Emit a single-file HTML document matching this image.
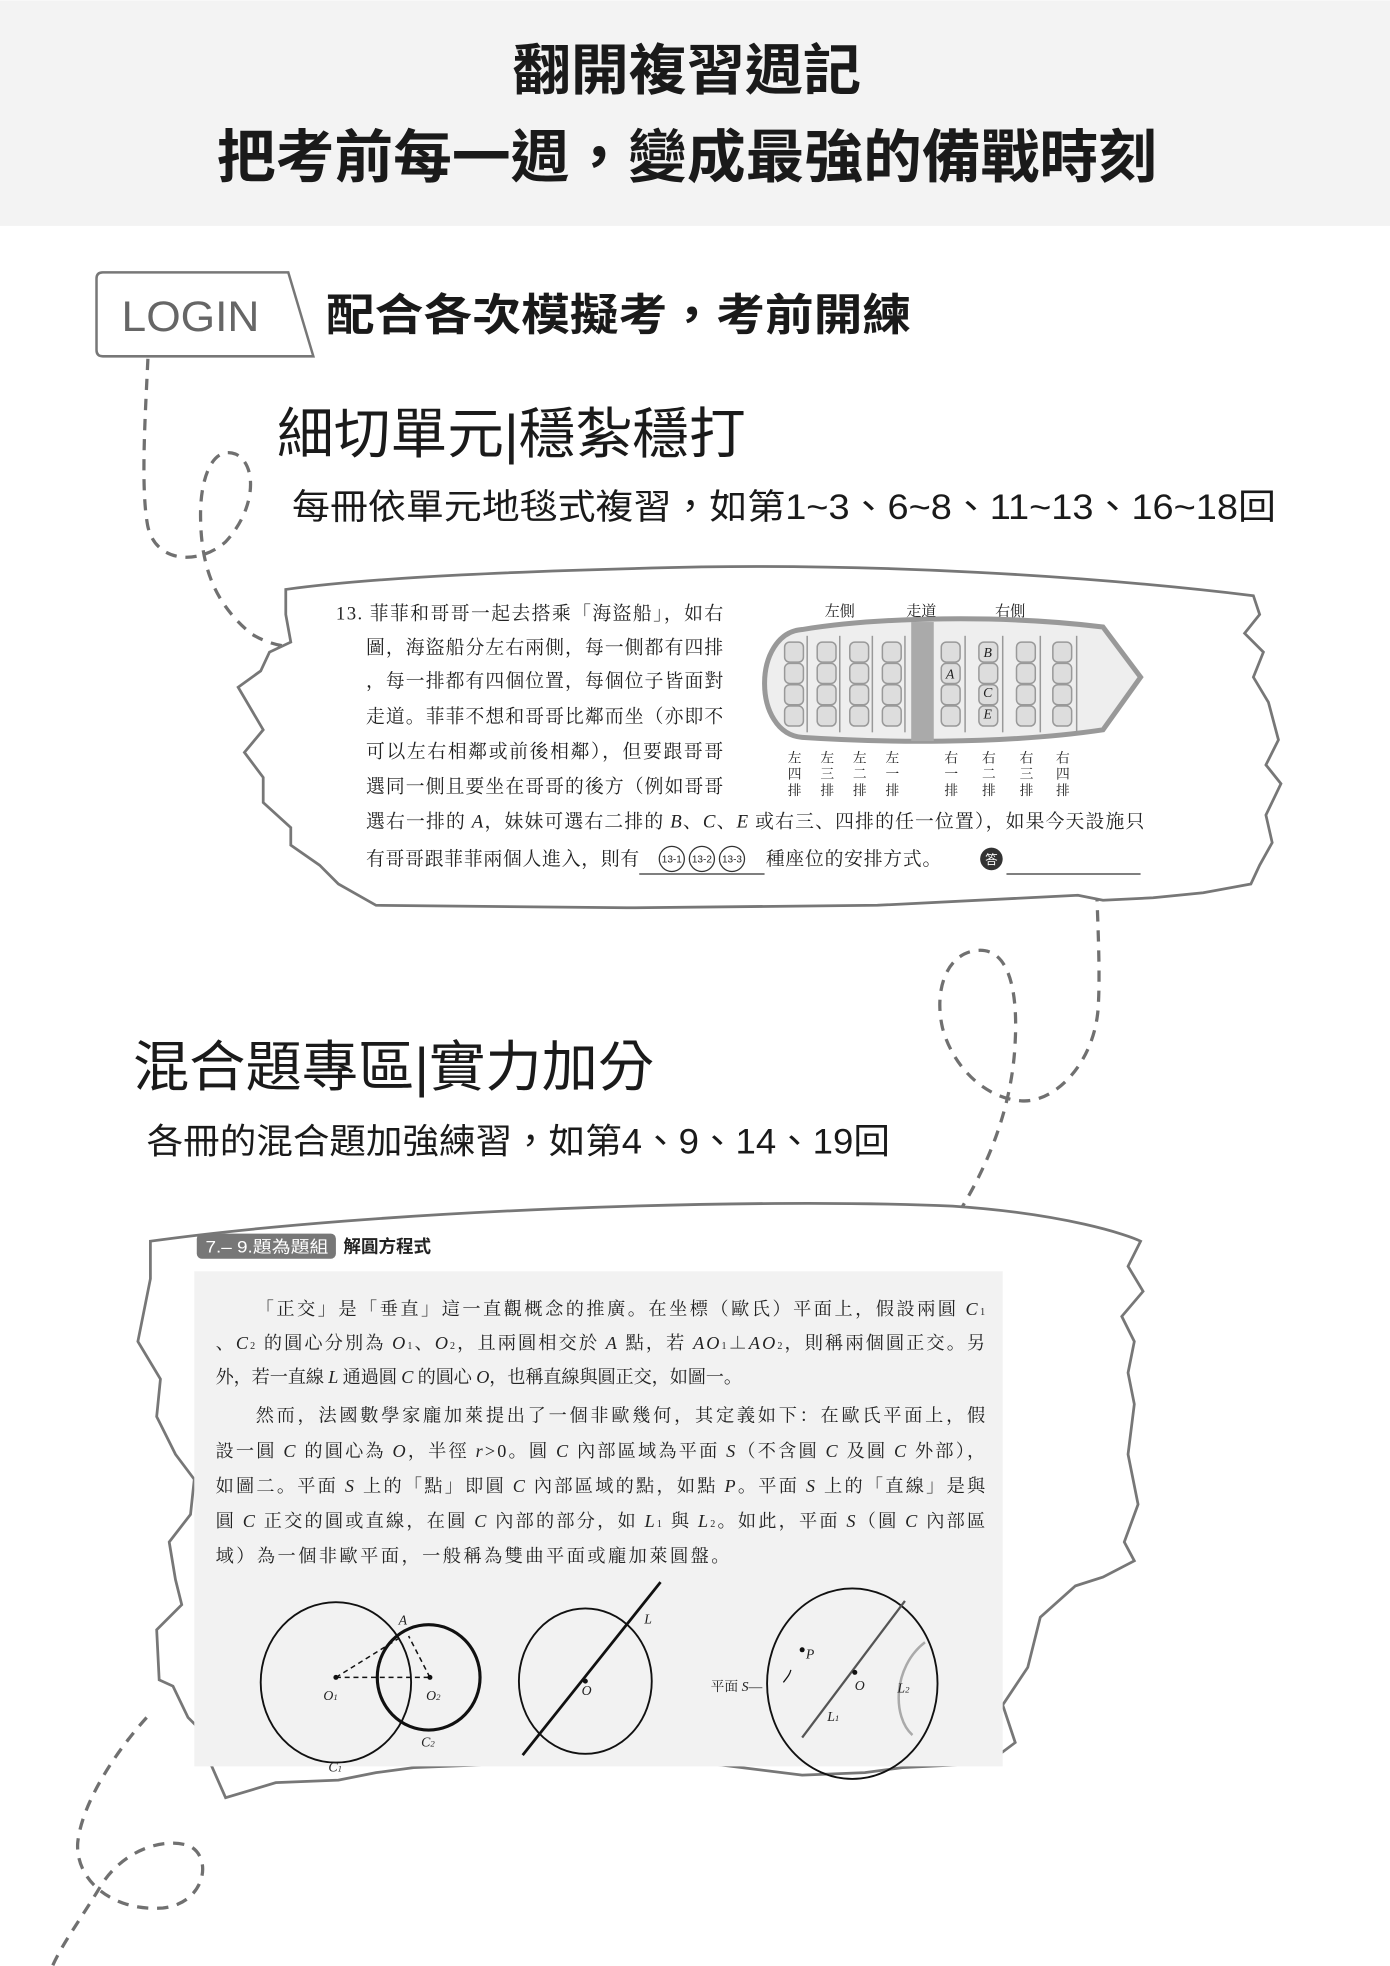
<!DOCTYPE html>
<html><head><meta charset="utf-8"><style>
html,body{margin:0;padding:0;background:#fff;}
svg{display:block;}
.t{font-family:"Liberation Sans","Noto Sans CJK TC",sans-serif;}
.s{font-family:"Liberation Serif","Noto Serif CJK SC",serif;}
</style></head><body>
<svg width="1390" height="1966" viewBox="0 0 1109 1568" xmlns="http://www.w3.org/2000/svg">
<defs>
<g id="col"><rect x="0" y="0" width="15" height="16" rx="4"/><rect x="0" y="17" width="15" height="16" rx="4"/><rect x="0" y="34" width="15" height="16" rx="4"/><rect x="0" y="51" width="15" height="16" rx="4"/></g>
</defs>
<rect x="0" y="0" width="1109" height="180" fill="#f3f3f3"/>
<text class="t" x="548" y="71" font-size="44" font-weight="700" fill="#1a1a1a" text-anchor="middle" textLength="278" lengthAdjust="spacingAndGlyphs">翻開複習週記</text>
<text class="t" x="173" y="141" font-size="46" font-weight="700" fill="#1a1a1a" textLength="750" lengthAdjust="spacingAndGlyphs">把考前每一週，變成最強的備戰時刻</text>

<!-- dashed connectors -->
<g fill="none" stroke="#707070" stroke-width="2.6" stroke-dasharray="9,7">
<path d="M118,286 C116,330 112,390 118,420 C125,450 160,450 180,432 C205,405 205,370 188,362 C170,355 160,380 160,410 C160,450 170,480 200,505 C215,515 235,518 250,515"/>
<path d="M875,710 C876,740 878,780 876,806 C872,850 840,880 815,878 C785,876 760,850 752,820 C745,790 755,760 780,758 C805,756 812,790 810,830 C808,880 790,930 758,978"/>
<path d="M117,1370 C90,1400 65,1440 62,1470 C60,1500 90,1525 130,1522 C165,1518 170,1480 150,1472 C125,1465 95,1480 80,1505 C65,1530 50,1550 42,1568"/>
</g>

<!-- LOGIN -->
<path d="M77,222 Q77,217 82,217 L230,217 L250,284 L82,284 Q77,284 77,279 Z" fill="#fff" stroke="#777" stroke-width="2"/>
<text class="t" x="97" y="264" font-size="34" fill="#666" textLength="110" lengthAdjust="spacingAndGlyphs">LOGIN</text>
<text class="t" x="260" y="263" font-size="35" font-weight="700" fill="#1a1a1a" textLength="467" lengthAdjust="spacingAndGlyphs">配合各次模擬考，考前開練</text>

<text class="t" x="221" y="361" font-size="44" fill="#1a1a1a" textLength="374" lengthAdjust="spacingAndGlyphs">細切單元|穩紮穩打</text>
<text class="t" x="233" y="414" font-size="28" fill="#1a1a1a" textLength="785" lengthAdjust="spacingAndGlyphs">每冊依單元地毯式複習，如第1~3、6~8、11~13、16~18回</text>

<!-- paper 1 -->
<path d="M228,470 C300,460 420,455 560,452 C700,450 860,458 1000,475 L1005,490 L993,505 L1008,520 L1000,540 L1012,560 L1020,590 L1010,610 L1022,625 L1010,650 L1015,672 L1005,690 L998,705 L960,712 L920,716 L880,718 L860,714 L700,722 L500,724 L300,722 L270,705 L255,690 L232,674 L232,660 L210,640 L210,620 L195,600 L210,582 L190,548 L208,535 L215,520 L232,512 L228,490 Z" fill="#fff" stroke="#777" stroke-width="2.2"/>

<g class="s" font-size="15" fill="#222" lengthAdjust="spacingAndGlyphs">
<text x="268" y="494" textLength="309">13. 菲菲和哥哥一起去搭乘「海盜船」，如右</text>
<text x="292" y="521" textLength="285">圖，海盜船分左右兩側，每一側都有四排</text>
<text x="292" y="548" textLength="285">，每一排都有四個位置，每個位子皆面對</text>
<text x="292" y="576" textLength="285">走道。菲菲不想和哥哥比鄰而坐（亦即不</text>
<text x="292" y="604" textLength="285">可以左右相鄰或前後相鄰），但要跟哥哥</text>
<text x="292" y="632" textLength="285">選同一側且要坐在哥哥的後方（例如哥哥</text>
<text x="292" y="660" textLength="621">選右一排的 <tspan font-style="italic">A</tspan>，妹妹可選右二排的 <tspan font-style="italic">B</tspan>、<tspan font-style="italic">C</tspan>、<tspan font-style="italic">E</tspan> 或右三、四排的任一位置），如果今天設施只</text>
<text x="292" y="690" textLength="218">有哥哥跟菲菲兩個人進入，則有</text>
<text x="611" y="690" textLength="140">種座位的安排方式。</text>
</g>
<line x1="510" y1="697" x2="610" y2="697" stroke="#333" stroke-width="1"/>
<g fill="none" stroke="#333" stroke-width="1"><circle cx="536" cy="685" r="10"/><circle cx="560" cy="685" r="10"/><circle cx="584" cy="685" r="10"/></g>
<g class="t" font-size="8" fill="#222" text-anchor="middle"><text x="536" y="688">13-1</text><text x="560" y="688">13-2</text><text x="584" y="688">13-3</text></g>
<circle cx="791" cy="685" r="9" fill="#333"/>
<text class="t" x="791" y="689" font-size="10" fill="#fff" text-anchor="middle">答</text>
<line x1="803" y1="697" x2="910" y2="697" stroke="#333" stroke-width="1"/>

<!-- boat -->
<g class="s" font-size="12" fill="#222" text-anchor="middle">
<text x="670" y="491">左側</text><text x="735" y="491">走道</text><text x="806" y="491">右側</text>
</g>
<path d="M640,502 C700,492 800,490 880,500 L910,540 L880,582 C800,594 700,592 640,588 C600,585 600,505 640,502 Z" fill="#eee" stroke="#999" stroke-width="4"/>
<rect x="727" y="496" width="18" height="95" fill="#aaa"/>
<g fill="#ddd" stroke="#999" stroke-width="1.2">
<use href="#col" x="626" y="512"/><use href="#col" x="652" y="512"/><use href="#col" x="678" y="512"/><use href="#col" x="704" y="512"/>
<use href="#col" x="751" y="512"/><use href="#col" x="781" y="512"/><use href="#col" x="811" y="512"/><use href="#col" x="840" y="512"/>
</g>
<g stroke="#999" stroke-width="1.2">
<line x1="644" y1="507" x2="644" y2="584"/><line x1="670" y1="507" x2="670" y2="584"/><line x1="696" y1="507" x2="696" y2="584"/><line x1="722" y1="507" x2="722" y2="584"/>
<line x1="770" y1="507" x2="770" y2="584"/><line x1="800" y1="507" x2="800" y2="584"/><line x1="830" y1="507" x2="830" y2="584"/><line x1="859" y1="507" x2="859" y2="584"/>
</g>
<g class="s" font-size="11" font-style="italic" fill="#222" text-anchor="middle">
<text x="758" y="541">A</text><text x="788" y="524">B</text><text x="788" y="556">C</text><text x="788" y="573">E</text>
</g>
<g class="s" font-size="11" fill="#222" text-anchor="middle">
<text x="634" y="608">左</text><text x="634" y="621">四</text><text x="634" y="634">排</text>
<text x="660" y="608">左</text><text x="660" y="621">三</text><text x="660" y="634">排</text>
<text x="686" y="608">左</text><text x="686" y="621">二</text><text x="686" y="634">排</text>
<text x="712" y="608">左</text><text x="712" y="621">一</text><text x="712" y="634">排</text>
<text x="759" y="608">右</text><text x="759" y="621">一</text><text x="759" y="634">排</text>
<text x="789" y="608">右</text><text x="789" y="621">二</text><text x="789" y="634">排</text>
<text x="819" y="608">右</text><text x="819" y="621">三</text><text x="819" y="634">排</text>
<text x="848" y="608">右</text><text x="848" y="621">四</text><text x="848" y="634">排</text>
</g>

<text class="t" x="106" y="866" font-size="44" fill="#1a1a1a" textLength="416" lengthAdjust="spacingAndGlyphs">混合題專區|實力加分</text>
<text class="t" x="117" y="920" font-size="28" fill="#1a1a1a" textLength="593" lengthAdjust="spacingAndGlyphs">各冊的混合題加強練習，如第4、9、14、19回</text>

<!-- paper 2 -->
<path d="M120,990 C300,965 600,955 760,962 C850,968 900,985 910,990 L900,1010 L912,1030 L895,1050 L905,1070 L900,1095 L905,1120 L900,1160 L908,1200 L897,1230 L905,1245 L880,1258 L858,1265 L830,1290 L820,1330 L800,1360 L810,1390 L790,1405 L760,1408 L720,1410 L690,1414 L640,1416 L560,1406 L470,1402 L420,1404 L380,1408 L330,1410 L300,1414 L270,1420 L220,1422 L180,1434 L165,1400 L160,1380 L150,1370 L138,1345 L127,1340 L125,1300 L145,1280 L140,1260 L135,1230 L152,1208 L155,1180 L140,1160 L125,1130 L128,1100 L110,1070 L116,1040 L120,1020 Z" fill="#fff" stroke="#777" stroke-width="2.2"/>
<rect x="155" y="1014" width="645" height="395" fill="#f2f2f2"/>
<rect x="157" y="984" width="111" height="20" rx="4" fill="#777"/>
<text class="t" x="164" y="999" font-size="13" fill="#fff" textLength="98" lengthAdjust="spacingAndGlyphs">7.– 9.題為題組</text>
<text class="t" x="274" y="999" font-size="14" font-weight="700" fill="#222">解圓方程式</text>

<g class="s" font-size="14.5" fill="#222" lengthAdjust="spacingAndGlyphs">
<text x="204" y="1049" textLength="582">「正交」是「垂直」這一直觀概念的推廣。在坐標（歐氏）平面上，假設兩圓 <tspan font-style="italic">C</tspan><tspan font-size="8">1</tspan></text>
<text x="172" y="1076" textLength="614">、<tspan font-style="italic">C</tspan><tspan font-size="8">2</tspan> 的圓心分別為 <tspan font-style="italic">O</tspan><tspan font-size="8">1</tspan>、<tspan font-style="italic">O</tspan><tspan font-size="8">2</tspan>，且兩圓相交於 <tspan font-style="italic">A</tspan> 點，若 <tspan font-style="italic">AO</tspan><tspan font-size="8">1</tspan>⊥<tspan font-style="italic">AO</tspan><tspan font-size="8">2</tspan>，則稱兩個圓正交。另</text>
<text x="172" y="1103" textLength="420">外，若一直線 <tspan font-style="italic">L</tspan> 通過圓 <tspan font-style="italic">C</tspan> 的圓心 <tspan font-style="italic">O</tspan>，也稱直線與圓正交，如圖一。</text>
<text x="204" y="1134" textLength="582">然而，法國數學家龐加萊提出了一個非歐幾何，其定義如下：在歐氏平面上，假</text>
<text x="172" y="1162" textLength="614">設一圓 <tspan font-style="italic">C</tspan> 的圓心為 <tspan font-style="italic">O</tspan>，半徑 <tspan font-style="italic">r</tspan>&gt;0。圓 <tspan font-style="italic">C</tspan> 內部區域為平面 <tspan font-style="italic">S</tspan>（不含圓 <tspan font-style="italic">C</tspan> 及圓 <tspan font-style="italic">C</tspan> 外部），</text>
<text x="172" y="1190" textLength="614">如圖二。平面 <tspan font-style="italic">S</tspan> 上的「點」即圓 <tspan font-style="italic">C</tspan> 內部區域的點，如點 <tspan font-style="italic">P</tspan>。平面 <tspan font-style="italic">S</tspan> 上的「直線」是與</text>
<text x="172" y="1218" textLength="614">圓 <tspan font-style="italic">C</tspan> 正交的圓或直線，在圓 <tspan font-style="italic">C</tspan> 內部的部分，如 <tspan font-style="italic">L</tspan><tspan font-size="8">1</tspan> 與 <tspan font-style="italic">L</tspan><tspan font-size="8">2</tspan>。如此，平面 <tspan font-style="italic">S</tspan>（圓 <tspan font-style="italic">C</tspan> 內部區</text>
<text x="172" y="1246" textLength="410">域）為一個非歐平面，一般稱為雙曲平面或龐加萊圓盤。</text>
</g>

<!-- figures -->
<g fill="none" stroke="#111">
<ellipse cx="268" cy="1342" rx="60" ry="64" stroke-width="1.5"/>
<ellipse cx="342" cy="1338" rx="41" ry="42" stroke-width="2.5"/>
<path d="M268,1338 L318,1307 M268,1338 L343,1338 M343,1338 L326,1305" stroke-dasharray="4,3" stroke-width="1.2"/>
<ellipse cx="467" cy="1341" rx="53" ry="58" stroke-width="1.5"/>
<line x1="417" y1="1400" x2="527" y2="1262" stroke-width="2.2"/>
<ellipse cx="680" cy="1343" rx="68" ry="76" stroke-width="1.5"/>
<line x1="640" y1="1386" x2="722" y2="1277" stroke="#555" stroke-width="1.8"/>
<path d="M738,1310 C712,1330 712,1370 728,1384" stroke="#aaa" stroke-width="2"/>
<path d="M625,1342 C628,1338 630,1336 631,1332" stroke-width="1"/>
</g>
<g fill="#111"><circle cx="268" cy="1338" r="2"/><circle cx="343" cy="1338" r="2"/><circle cx="467" cy="1341" r="2"/><circle cx="682" cy="1334" r="2"/><circle cx="640" cy="1316" r="2"/></g>
<g class="s" font-size="11" font-style="italic" fill="#222">
<text x="318" y="1296">A</text><text x="258" y="1356">O<tspan font-size="7">1</tspan></text><text x="340" y="1356">O<tspan font-size="7">2</tspan></text>
<text x="336" y="1393">C<tspan font-size="7">2</tspan></text><text x="262" y="1413">C<tspan font-size="7">1</tspan></text>
<text x="514" y="1295">L</text><text x="464" y="1352">O</text>
<text x="643" y="1323">P</text><text x="682" y="1348">O</text><text x="660" y="1373">L<tspan font-size="7">1</tspan></text><text x="716" y="1350">L<tspan font-size="7">2</tspan></text>
</g>
<text class="s" x="567" y="1349" font-size="11" fill="#222">平面 <tspan font-style="italic">S</tspan>—</text>
</svg>
</body></html>
